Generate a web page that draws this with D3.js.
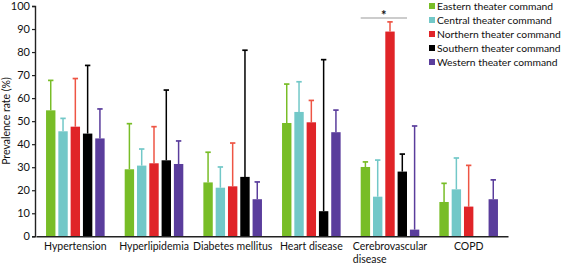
<!DOCTYPE html>
<html><head><meta charset="utf-8">
<script src="https://cdn.jsdelivr.net/npm/d3@7"></script>
<style>body{margin:0;background:#fff}svg{display:block}text{font-family:Lato,sans-serif;fill:#111}</style>
</head><body><svg id="c" width="567" height="264"></svg>
<script>
const categories = ["Hypertension","Hyperlipidemia","Diabetes mellitus","Heart disease","Cerebrovascular disease","COPD"];
const seriesNames = ["Eastern theater command","Central theater command","Northern theater command","Southern theater command","Western theater command"];
const colors = ["#78bd27","#72c8c8","#e02428","#000000","#5a3d9c"];
const whiskerColors = ["#78bd27","#72c8c8","#ee5544","#000000","#5a3d9c"];
// mean values per series, in category order (null = no bar)
const eastern  = [54.7, 29.1, 23.4, 49.2, 30.1, 14.9];
const central  = [45.6, 30.7, 21.1, 54.0, 17.2, 20.4];
const northern = [47.6, 31.7, 21.7, 49.5, 88.9, 12.9];
const southern = [44.6, 33.0, 25.8, 10.9, 28.1, null];
const western  = [42.5, 31.4, 16.1, 45.2, 2.9, 16.1];
// upper end of the error bars
const easternErr  = [67.7, 48.9, 36.5, 66.1, 32.3, 23.0];
const centralErr  = [51.2, 37.9, 30.1, 67.1, 33.1, 34.0];
const northernErr = [68.5, 47.6, 40.5, 59.0, 93.1, 30.8];
const southernErr = [74.2, 63.5, 80.8, 76.7, 35.7, null];
const westernErr  = [55.3, 41.4, 23.6, 54.8, 47.9, 24.5];
const yTicks = [0,10,20,30,40,50,60,70,80,90,100];

const values = [eastern, central, northern, southern, western];
const errs = [easternErr, centralErr, northernErr, southernErr, westernErr];
const FONT = "Lato, sans-serif";

const svg = d3.select("#c");
const x = d3.scaleBand().domain(categories).range([36, 508]).paddingInner(0).paddingOuter(0);
const y = d3.scaleLinear().domain([0,100]).range([236.3, 6]);
const inner = d3.scaleBand().domain(seriesNames).paddingInner(0.236).paddingOuter(0);
const groupW = 58.6;
inner.range([(x.bandwidth()-groupW)/2, (x.bandwidth()+groupW)/2]);

const rows = [];
categories.forEach((c,ci)=>seriesNames.forEach((s,si)=>{
  if (values[si][ci] != null) rows.push({c, s, si, v: values[si][ci], e: errs[si][ci]});
}));

const g = svg.append("g");
const eb = g.selectAll(".eb").data(rows).enter().append("g");
eb.append("line")
  .attr("x1", d=>x(d.c)+inner(d.s)+inner.bandwidth()/2)
  .attr("x2", d=>x(d.c)+inner(d.s)+inner.bandwidth()/2)
  .attr("y1", d=>y(d.v)).attr("y2", d=>y(d.e))
  .attr("stroke", d=>whiskerColors[d.si]).attr("stroke-width", 1.5);
eb.append("line")
  .attr("x1", d=>x(d.c)+inner(d.s)+inner.bandwidth()/2-2.7)
  .attr("x2", d=>x(d.c)+inner(d.s)+inner.bandwidth()/2+2.7)
  .attr("y1", d=>y(d.e)).attr("y2", d=>y(d.e))
  .attr("stroke", d=>whiskerColors[d.si]).attr("stroke-width", 1.7);
g.selectAll(".bar").data(rows).enter().append("rect")
  .attr("x", d=>x(d.c)+inner(d.s))
  .attr("width", inner.bandwidth())
  .attr("y", d=>y(d.v))
  .attr("height", d=>y(0)-y(d.v))
  .attr("fill", d=>colors[d.si]);

// y axis
const ya = svg.append("g").attr("transform","translate(35,0)")
  .call(d3.axisLeft(y).tickValues(yTicks).tickSize(3).tickPadding(2));
ya.select(".domain").attr("stroke","#222").attr("stroke-width",1.4);
ya.selectAll(".tick line").attr("stroke","#222").attr("stroke-width",1.2);
ya.selectAll("text").attr("font-size","11px").attr("font-family",FONT).attr("fill","#111");

// x axis
const xa = svg.append("g").attr("transform","translate(0,236.3)")
  .call(d3.axisBottom(x).tickSize(0).tickPadding(0).tickFormat(""));
xa.select(".domain").attr("stroke","#222").attr("stroke-width",1.4);
xa.selectAll(".tick").each(function(d){
  const t = d3.select(this).append("text").attr("font-size","10.5px").attr("fill","#111")
    .attr("font-family",FONT);
  if (d === "Cerebrovascular disease") {
    const a = t.append("tspan").attr("x",0).attr("y",13.5).text("Cerebrovascular");
    const w = a.node().getComputedTextLength();
    t.attr("text-anchor","start");
    a.attr("x",-w/2);
    t.append("tspan").attr("x",-w/2).attr("y",26.5).text("disease");
  } else {
    t.attr("text-anchor","middle").attr("y",13.5).text(d);
  }
});

// y axis title
svg.append("text").attr("transform","translate(10,121) rotate(-90)")
  .attr("text-anchor","middle").attr("font-size","10.5px").text("Prevalence rate (%)");

// significance bracket
const ci = categories[4];
const sx1 = x(ci)+inner(seriesNames[0]);
const sx2 = x(ci)+inner(seriesNames[3])+inner.bandwidth();
svg.append("line").attr("x1",sx1).attr("x2",sx2).attr("y1",18).attr("y2",18)
  .attr("stroke","#999").attr("stroke-width",1.2);
svg.append("text").attr("x",(sx1+sx2)/2).attr("y",20).attr("text-anchor","middle")
  .attr("font-size","13px").attr("font-weight","bold").text("*");

// legend
const lg = svg.append("g").selectAll("g").data(seriesNames).enter().append("g")
  .attr("transform",(d,i)=>`translate(429,${6+i*14})`);
lg.append("rect").attr("x",0).attr("y",-3).attr("width",6).attr("height",6)
  .attr("fill",(d,i)=>colors[i]);
lg.append("text").attr("x",8).attr("y",0).attr("dy","0.35em").attr("font-size","10.3px").text(d=>d);
</script></body></html>
